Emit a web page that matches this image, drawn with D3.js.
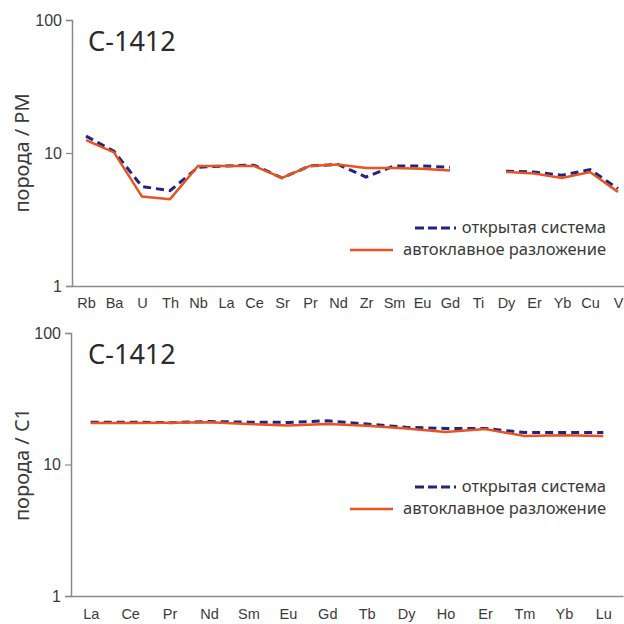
<!DOCTYPE html>
<html>
<head>
<meta charset="utf-8">
<title>C-1412</title>
<script src="https://d3js.org/d3.v7.min.js"></script>
<style>
  body { margin: 0; background: #fff; }
  svg { font-family: "Noto Sans", sans-serif; }
  .tick text { fill: #3a3a3a; }
</style>
</head>
<body>
<script>
// данные: спайдер-диаграмма (PM) и РЗЭ (C1)
var pmElements = ["Rb","Ba","U","Th","Nb","La","Ce","Sr","Pr","Nd","Zr","Sm","Eu","Gd","Ti","Dy","Er","Yb","Cu","V"];
var pmOpen = [13.4, 10.3, 5.6, 5.2, 7.8, 8.0, 8.1, 6.5, 8.0, 8.2, 6.6, 8.0, 8.0, 7.8, null, 7.3, 7.2, 6.8, 7.5, 5.4];
var pmAuto = [12.5, 10.1, 4.7, 4.5, 8.0, 8.0, 8.0, 6.5, 8.0, 8.2, 7.7, 7.7, 7.6, 7.4, null, 7.2, 7.0, 6.5, 7.2, 5.1];

var reeElements = ["La","Ce","Pr","Nd","Sm","Eu","Gd","Tb","Dy","Ho","Er","Tm","Yb","Lu"];
var reeOpen = [21.0, 21.0, 20.8, 21.2, 21.0, 20.9, 21.5, 20.3, 19.2, 18.8, 18.8, 17.5, 17.5, 17.5];
var reeAuto = [20.7, 20.7, 20.8, 21.0, 20.3, 19.8, 20.3, 19.7, 18.8, 17.7, 18.6, 16.5, 16.7, 16.5];

var yTicks = [1, 10, 100];
var seriesNames = ["открытая система", "автоклавное разложение"];

var svg = d3.select("body").append("svg")
    .attr("width", 624)
    .attr("height", 624);

function drawPanel(cfg) {
    var x = d3.scalePoint()
        .domain(cfg.cats)
        .range([cfg.left, cfg.right])
        .padding(0.5);
    var y = d3.scaleLog()
        .domain([1, 100])
        .range([cfg.bottom, cfg.top]);

    var g = svg.append("g");

    // ось Y
    var ay = g.append("g")
        .attr("transform", "translate(" + cfg.left + ",0)")
        .call(d3.axisLeft(y).tickValues(yTicks).tickFormat(d3.format("d")).tickSize(6).tickPadding(4));
    ay.selectAll("text").style("font-size", "16px");

    // ось X
    var ax = g.append("g")
        .attr("transform", "translate(0," + cfg.bottom + ")")
        .call(d3.axisBottom(x).tickSize(0).tickPadding(cfg.xPad));
    ax.selectAll("text").style("font-size", "14.5px");

    g.selectAll(".domain").attr("stroke", "#8a8a8a").attr("stroke-width", 1.5);
    g.selectAll(".tick line").attr("stroke", "#8a8a8a").attr("stroke-width", 1.2);

    var line = d3.line()
        .defined(function(d) { return d != null; })
        .x(function(d, i) { return x(cfg.cats[i]); })
        .y(function(d) { return y(d); });

    g.append("path")
        .datum(cfg.open)
        .attr("fill", "none")
        .attr("stroke", "#232383")
        .attr("stroke-width", 3)
        .attr("stroke-dasharray", "8,5")
        .attr("d", line);

    g.append("path")
        .datum(cfg.auto)
        .attr("fill", "none")
        .attr("stroke", "#e8531f")
        .attr("stroke-width", 2.5)
        .attr("d", line);

    // заголовок
    g.append("text")
        .attr("x", 88)
        .attr("y", cfg.top + 31)
        .style("font-size", "27px")
        .attr("fill", "#2a2a2a")
        .text("С-1412");

    // подпись оси Y
    g.append("text")
        .attr("transform", "translate(29," + (cfg.top + cfg.bottom) / 2 + ") rotate(-90)")
        .attr("text-anchor", "middle")
        .style("font-size", "20px")
        .attr("fill", "#3a3a3a")
        .text(cfg.yLabel);

    // легенда
    var lg = g.append("g");
    lg.append("line")
        .attr("x1", 415).attr("x2", 456)
        .attr("y1", cfg.legY).attr("y2", cfg.legY)
        .attr("stroke", "#232383").attr("stroke-width", 3)
        .attr("stroke-dasharray", "9,4");
    lg.append("text")
        .attr("x", 606).attr("y", cfg.legY + 5)
        .attr("text-anchor", "end")
        .style("font-size", "16.5px").attr("fill", "#3a3a3a")
        .text(seriesNames[0]);
    lg.append("line")
        .attr("x1", 350).attr("x2", 393)
        .attr("y1", cfg.legY + 22).attr("y2", cfg.legY + 22)
        .attr("stroke", "#e8531f").attr("stroke-width", 2.5);
    lg.append("text")
        .attr("x", 606).attr("y", cfg.legY + 27)
        .attr("text-anchor", "end")
        .style("font-size", "16.5px").attr("fill", "#3a3a3a")
        .text(seriesNames[1]);
}

drawPanel({
    cats: pmElements, open: pmOpen, auto: pmAuto,
    left: 72, right: 632, top: 20, bottom: 286,
    yLabel: "порода / PM", legY: 228, xPad: 12
});

drawPanel({
    cats: reeElements, open: reeOpen, auto: reeAuto,
    left: 71, right: 623, top: 333, bottom: 596,
    yLabel: "порода / C1", legY: 487, xPad: 13
});
</script>
</body>
</html>
